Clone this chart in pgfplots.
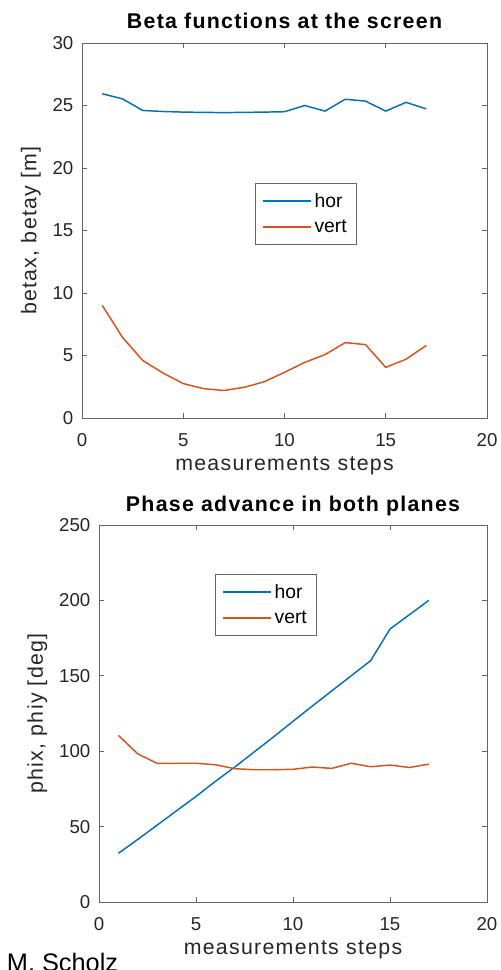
\documentclass[border=0pt]{standalone}
\usepackage{pgfplots}
\pgfplotsset{compat=1.18}
\usepackage{fontspec}
\setmainfont{Liberation Sans}
\newfontfamily\labelfont[LetterSpace=6]{Liberation Sans}
\newfontfamily\titlefont[LetterSpace=6]{Liberation Sans Bold}

\definecolor{mblue}{rgb}{0,0.447,0.741}
\definecolor{morange}{rgb}{0.85,0.325,0.098}
\definecolor{axgray}{gray}{0.40}
\definecolor{txtgray}{gray}{0.15}

\pgfplotstableread{
step betax betay
1  25.94 9.01
2  25.53 6.45
3  24.60 4.60
4  24.52 3.60
5  24.47 2.75
6  24.45 2.35
7  24.43 2.20
8  24.45 2.45
9  24.47 2.90
10 24.50 3.65
11 25.00 4.45
12 24.55 5.07
13 25.50 6.03
14 25.35 5.87
15 24.55 4.05
16 25.25 4.70
17 24.73 5.80
}\betatable

\pgfplotstableread{
step phix phiy
1  32.3  110.5
2  41.5  98.2
3  51.0  91.9
4  60.5  92.0
5  70.0  92.0
6  80.0  91.0
7  89.5  88.4
8  99.5  87.7
9  109.5 87.7
10 119.8 88.0
11 130.0 89.5
12 140.0 88.6
13 150.0 92.0
14 160.0 89.7
15 181.0 90.8
16 190.5 89.2
17 200.0 91.4
}\phasetable

\pgfplotsset{
  mstyle/.style={
    scale only axis,
    axis line style={axgray, line width=0.6pt},
    every tick/.style={axgray, line width=0.6pt},
    major tick length=4pt,
    tick align=inside,
    xtick pos=both, ytick pos=both,
    xmin=0, xmax=20, xtick={0,5,...,20},
    tick label style={font=\fontsize{14}{16}\selectfont, text=txtgray},
    /pgf/number format/assume math mode=true,
    xticklabel style={yshift=-8pt},
    yticklabel style={xshift=-3pt},
    label style={font=\labelfont\fontsize{16}{18}\selectfont, text=txtgray},
    xlabel style={yshift=-1pt},
    ylabel style={yshift=2pt},
    title style={font=\titlefont\fontsize{16}{18}\selectfont, text=black},
    legend cell align=left,
    legend style={draw=axgray, line width=0.6pt, fill=white,
      font=\fontsize{14.5}{17}\selectfont, text=black,
      inner xsep=5pt, inner ysep=5.5pt, row sep=4pt},
    legend image code/.code={\draw[#1, line width=1.4pt] (0pt,0pt) -- (36pt,0pt);},
    every axis plot/.append style={line width=1.1pt},
  }
}

\begin{document}
\begin{tikzpicture}
\useasboundingbox (0pt,0pt) rectangle (375pt,727.5pt);

% upper panel: beta functions
\begin{axis}[mstyle,
  at={(61.5pt,414pt)}, anchor=south west,
  width=303.75pt, height=281.25pt,
  ymin=0, ymax=30, ytick={0,5,...,30},
  title={Beta functions at the screen},
  title style={yshift=1pt},
  xlabel={measurements steps},
  ylabel={betax, betay [m]},
  legend style={at={(0.427,0.627)}, anchor=north west},
]
\addplot[mblue] table[x=step, y=betax] {\betatable};
\addlegendentry{hor}
\addplot[morange] table[x=step, y=betay] {\betatable};
\addlegendentry{vert}
\end{axis}

% lower panel: phase advance
\begin{axis}[mstyle,
  at={(74.25pt,51pt)}, anchor=south west,
  width=291pt, height=282.75pt,
  ymin=0, ymax=250, ytick={0,50,...,250},
  title={Phase advance in both planes},
  title style={yshift=-3pt},
  xlabel={measurements steps},
  ylabel={phix, phiy [deg]},
  legend style={at={(0.299,0.870)}, anchor=north west},
]
\addplot[mblue] table[x=step, y=phix] {\phasetable};
\addlegendentry{hor}
\addplot[morange] table[x=step, y=phiy] {\phasetable};
\addlegendentry{vert}
\end{axis}

\node[anchor=base west, inner sep=0pt, font=\fontsize{19}{21}\selectfont, text=black] at (5pt,-1.5pt) {M. Scholz};
\end{tikzpicture}
\end{document}
